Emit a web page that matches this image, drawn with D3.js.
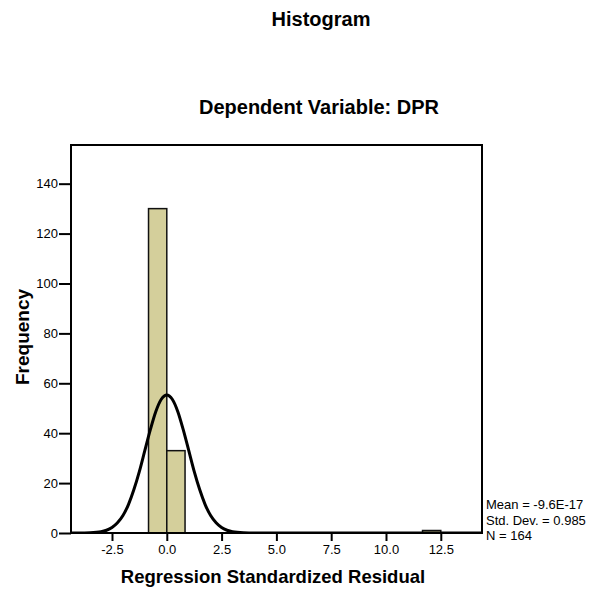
<!DOCTYPE html>
<html>
<head>
<meta charset="utf-8">
<script src="https://cdn.jsdelivr.net/npm/d3@7"></script>
<style>
  body { margin: 0; background: #fff; }
  svg { font-family: "Liberation Sans", Arial, sans-serif; }
</style>
</head>
<body>
<div id="chart"></div>
<script>
// histogram bins (bin width ~0.833)
const binStart = [-0.833, 0, 11.667]
const binEnd = [0, 0.833, 12.5]
const counts = [130, 33, 1]

// normal curve heights
const curveX = [-4.37, -4, -3.5, -3, -2.75, -2.5, -2.25, -2, -1.75, -1.5, -1.25, -1, -0.75, -0.5, -0.25, 0,
                0.25, 0.5, 0.75, 1, 1.25, 1.5, 1.75, 2, 2.25, 2.5, 2.75, 3, 3.5, 4, 5, 14.38]
const curveY = [0, 0, 0.1, 0.5, 1.1, 2.2, 4.1, 7.0, 11.4, 17.4, 24.7, 33.1, 41.4, 48.7, 53.6, 55.35,
                53.6, 48.7, 41.4, 33.1, 24.7, 17.4, 11.4, 7.0, 4.1, 2.2, 1.1, 0.5, 0.1, 0, 0, 0]

const xTicks = [-2.5, 0, 2.5, 5, 7.5, 10, 12.5]
const yTicks = [0, 20, 40, 60, 80, 100, 120, 140]
const stats = ['Mean = -9.6E-17', 'Std. Dev. = 0.985', 'N = 164']

const w = 591, h = 589
const pLeft = 71, pRight = 482, pTop = 145, pBottom = 533

const svg = d3.select('#chart').append('svg')
              .attr('width', w)
              .attr('height', h)

const x = d3.scaleLinear().domain([-4.37, 14.38]).range([pLeft, pRight])
const y = d3.scaleLinear().domain([0, 155.5]).range([pBottom, pTop])

svg.append('text')
   .attr('x', 321).attr('y', 26)
   .attr('text-anchor', 'middle')
   .style('font-size', '20px').style('font-weight', 'bold')
   .text('Histogram')

svg.append('text')
   .attr('x', 319).attr('y', 114)
   .attr('text-anchor', 'middle')
   .style('font-size', '20px').style('font-weight', 'bold')
   .text('Dependent Variable: DPR')

// bars
svg.selectAll('rect.bar')
   .data(counts)
   .enter()
   .append('rect')
   .attr('class', 'bar')
   .attr('x', (d, i) => x(binStart[i]))
   .attr('width', (d, i) => x(binEnd[i]) - x(binStart[i]))
   .attr('y', d => y(d))
   .attr('height', d => y(0) - y(d))
   .attr('fill', '#d4cf9b')
   .attr('stroke', '#111')
   .attr('stroke-width', 1.5)

// normal curve
svg.append('clipPath').attr('id', 'clip')
   .append('rect').attr('x', pLeft).attr('y', pTop).attr('width', pRight - pLeft).attr('height', pBottom - pTop)

const line = d3.line()
               .x((d, i) => x(curveX[i]))
               .y(d => y(d))
               .curve(d3.curveMonotoneX)

svg.append('path')
   .datum(curveY)
   .attr('d', line)
   .attr('fill', 'none')
   .attr('stroke', '#000')
   .attr('stroke-width', 3)
   .attr('clip-path', 'url(#clip)')

// frame
svg.append('rect')
   .attr('x', pLeft).attr('y', pTop)
   .attr('width', pRight - pLeft).attr('height', pBottom - pTop)
   .attr('fill', 'none')
   .attr('stroke', '#000')
   .attr('stroke-width', 2)

const fmt = d3.format('.1f')

const xAxis = d3.axisBottom(x)
                .tickValues(xTicks)
                .tickFormat(d => fmt(d).replace('\u2212', '-'))
                .tickSize(8)
                .tickSizeOuter(0)
                .tickPadding(4)

const gx = svg.append('g')
   .attr('transform', 'translate(0,' + pBottom + ')')
   .call(xAxis)
gx.select('.domain').remove()
gx.selectAll('line').attr('stroke', '#000').attr('stroke-width', 2)
gx.selectAll('text').style('font-size', '13px').attr('fill', '#000')

const yAxis = d3.axisLeft(y)
                .tickValues(yTicks)
                .tickSize(12)
                .tickSizeOuter(0)
                .tickPadding(1)

const gy = svg.append('g')
   .attr('transform', 'translate(' + pLeft + ',0)')
   .call(yAxis)
gy.select('.domain').remove()
gy.selectAll('line').attr('stroke', '#000').attr('stroke-width', 2)
gy.selectAll('text').style('font-size', '13px').attr('fill', '#000')

gx.attr('font-family', null)
gy.attr('font-family', null)

svg.append('text')
   .attr('x', 273).attr('y', 583)
   .attr('text-anchor', 'middle')
   .style('font-size', '18.5px').style('font-weight', 'bold')
   .text('Regression Standardized Residual')

svg.append('text')
   .attr('transform', 'translate(29,337) rotate(-90)')
   .attr('text-anchor', 'middle')
   .style('font-size', '19px').style('font-weight', 'bold')
   .text('Frequency')

svg.selectAll('text.stat')
   .data(stats)
   .enter()
   .append('text')
   .attr('class', 'stat')
   .attr('x', 486)
   .attr('y', (d, i) => 509 + i * 15.5)
   .style('font-size', '13px')
   .text(d => d)
</script>
</body>
</html>
